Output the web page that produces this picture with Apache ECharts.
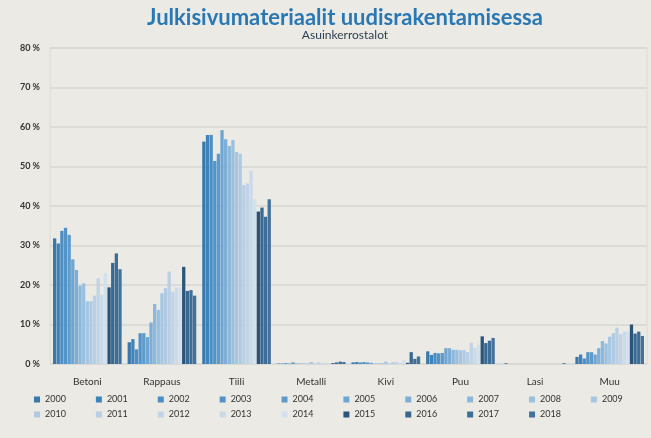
<!DOCTYPE html>
<html>
<head>
<meta charset="utf-8">
<script src="https://cdn.jsdelivr.net/npm/echarts@6/dist/echarts.min.js"></script>
<style>
  html, body { margin: 0; padding: 0; background: #ebeae5; }
  #chart { width: 651px; height: 438px; }
</style>
</head>
<body>
<div id="chart"></div>
<script>
// materials (x axis)
var categories = ['Betoni', 'Rappaus', 'Tiili', 'Metalli', 'Kivi', 'Puu', 'Lasi', 'Muu'];
var years = ['2000','2001','2002','2003','2004','2005','2006','2007','2008','2009',
             '2010','2011','2012','2013','2014','2015','2016','2017','2018'];

// share in % per material, one array per material, 2000..2018
var betoni  = [31.8, 30.5, 33.7, 34.5, 32.7, 26.5, 23.8, 19.8, 20.4, 15.9, 15.9, 17.3, 21.7, 17.5, 23.0, 19.4, 25.6, 28.0, 24.0];
var rappaus = [5.5, 6.3, 3.7, 7.8, 7.8, 6.8, 10.5, 15.2, 13.7, 17.9, 19.2, 23.4, 18.3, 19.4, 19.4, 24.6, 18.5, 18.7, 17.3];
var tiili   = [56.3, 58.0, 58.0, 51.4, 53.2, 59.2, 56.9, 55.2, 56.7, 53.7, 53.2, 45.3, 45.7, 48.9, 41.8, 38.6, 39.6, 37.3, 41.7];
var metalli = [0.1, 0.1, 0.2, 0.1, 0.4, 0.1, 0.1, 0.1, 0.1, 0.5, 0.1, 0.4, 0.2, 0.3, 0.1, 0.2, 0.4, 0.6, 0.5];
var kivi    = [0.4, 0.5, 0.4, 0.5, 0.4, 0.3, 0.1, 0.1, 0.2, 0.6, 0.1, 0.5, 0.5, 0.2, 1.0, 0.3, 3.0, 1.3, 1.9];
var puu     = [3.2, 2.3, 2.8, 2.7, 2.8, 4.0, 4.0, 3.6, 3.6, 3.5, 3.5, 3.0, 5.4, 4.1, 4.9, 7.0, 5.3, 5.9, 6.6];
var lasi    = [0.0, 0.2, 0.0, 0.0, 0.0, 0.0, 0.0, 0.0, 0.0, 0.0, 0.0, 0.0, 0.0, 0.0, 0.0, 0.0, 0.0, 0.2, 0.0];
var muu     = [1.8, 2.4, 1.4, 3.0, 3.0, 2.4, 4.0, 5.8, 5.2, 6.9, 7.8, 9.2, 7.6, 8.2, 8.2, 10.0, 7.7, 8.2, 7.1];

var colors = ['#3a77ab', '#3f83bb', '#4a8ec5', '#5393c7', '#5c9bcc',
              '#6ea5d2', '#7eaed6', '#8db8db', '#9ac0df', '#a6c6e1',
              '#b0cae3', '#b9cfe4', '#c1d4e7', '#c9dae9', '#d3e1ee',
              '#2b5479', '#396890', '#3e6e98', '#44729b'];

var materials = [betoni, rappaus, tiili, metalli, kivi, puu, lasi, muu];

var series = years.map(function (y, i) {
    return {
        name: y,
        type: 'bar',
        barGap: '10%',
        barCategoryGap: '8%',
        itemStyle: { color: colors[i] },
        data: materials.map(function (m) { return m[i]; })
    };
});

function legendRow(data, top) {
    return {
        data: data,
        top: top,
        left: 29,
        itemWidth: 6,
        itemHeight: 6,
        itemGap: 30,
        icon: 'rect',
        textStyle: { fontFamily: 'Lato', fontSize: 9, color: '#333' }
    };
}

var chart = echarts.init(document.getElementById('chart'));
chart.setOption({
    backgroundColor: '#ebeae5',
    animation: false,
    color: colors,
    title: [{
        text: 'Julkisivumateriaalit uudisrakentamisessa',
        left: 340, textAlign: 'center', top: 2,
        textStyle: { fontFamily: 'Lato', fontSize: 22, fontWeight: 'bold', color: '#2a78b3' }
    }, {
        text: 'Asuinkerrostalot',
        left: 340, textAlign: 'center', top: 24,
        textStyle: { fontFamily: 'Lato', fontSize: 12, fontWeight: 'normal', color: '#2f3f4f' }
    }],
    legend: [legendRow(years.slice(0, 10), 390), legendRow(years.slice(10), 405)],
    grid: {
        left: 50, right: 4, top: 48, bottom: 74,
        show: true, borderColor: '#dcdcd8', borderWidth: 1
    },
    xAxis: {
        type: 'category',
        data: categories,
        axisLine: { show: false },
        axisTick: { show: false },
        axisLabel: { fontFamily: 'Lato', fontSize: 10, color: '#333', margin: 13 }
    },
    yAxis: {
        type: 'value',
        min: 0, max: 80, interval: 10,
        axisLine: { show: false },
        axisTick: { show: false },
        axisLabel: { formatter: '{value} %', fontFamily: 'Lato', fontSize: 9, fontWeight: 'bold', color: '#333', margin: 10 },
        splitLine: { lineStyle: { color: '#d6d6d2', width: 1.5 } }
    },
    series: series
});
</script>
</body>
</html>
